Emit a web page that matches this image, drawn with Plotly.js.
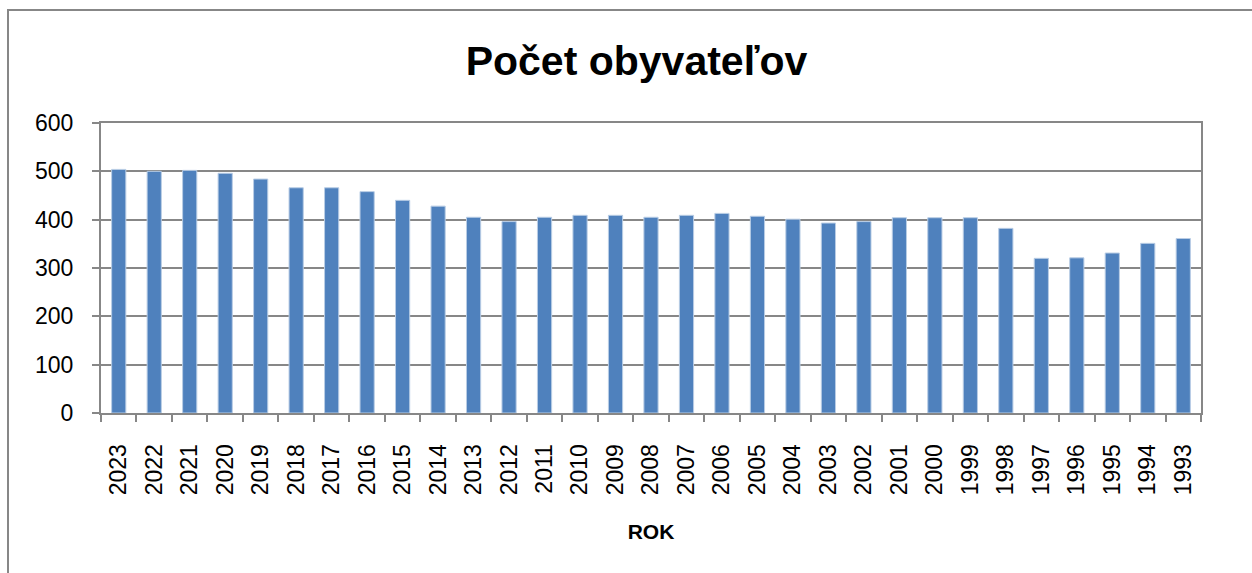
<!DOCTYPE html>
<html>
<head>
<meta charset="utf-8">
<script src="https://cdn.plot.ly/plotly-3.0.1.min.js"></script>
<style>
html,body{margin:0;padding:0;background:#fff;}
#chart{width:1252px;height:573px;}
</style>
</head>
<body>
<div id="chart"></div>
<script>
const years = ["2023","2022","2021","2020","2019","2018","2017","2016","2015","2014","2013","2012","2011","2010","2009","2008","2007","2006","2005","2004","2003","2002","2001","2000","1999","1998","1997","1996","1995","1994","1993"];
const population = [504,500,502,496,484,466,466,458,440,428,405,396,405,409,409,405,409,413,407,401,393,396,404,404,404,382,320,321,331,351,361];
const yTicks = [0,100,200,300,400,500,600];

const trace = {
  type: 'bar',
  x: years,
  y: population,
  marker: {color: '#4f81bd', line: {color: '#b9cde5', width: 1}},
  hoverinfo: 'x+y'
};

const L = 101, R = 1201, T = 123, B = 413;
const W = R - L, H = B - T;

const layout = {
  width: 1252, height: 573,
  margin: {l: L, r: 1252 - R, t: T, b: 573 - B},
  paper_bgcolor: '#ffffff',
  plot_bgcolor: '#ffffff',
  bargap: 0.6,
  showlegend: false,
  title: {
    text: '<b>Počet obyvateľov</b>',
    font: {family: 'Liberation Sans, Arial, sans-serif', size: 41, color: '#000'},
    x: 636.5 / 1252, xanchor: 'center', xref: 'container',
    y: 1 - 61 / 573, yanchor: 'middle', yref: 'container'
  },
  xaxis: {
    type: 'category',
    tickangle: -90,
    tickfont: {family: 'Liberation Sans, Arial, sans-serif', size: 23, color: '#000'},
    ticks: 'outside', tickson: 'boundaries', ticklen: 7, tickcolor: '#878787', tickwidth: 2,
    ticklabelstandoff: 20,
    showline: true, linecolor: '#878787', linewidth: 2, mirror: true,
    showgrid: false,
    title: {text: '<b>ROK</b>', font: {family: 'Liberation Sans, Arial, sans-serif', size: 21, color: '#000'}, standoff: 30}
  },
  yaxis: {
    range: [0, 600],
    tickvals: yTicks,
    tickfont: {family: 'Liberation Sans, Arial, sans-serif', size: 23, color: '#000'},
    ticks: 'outside', ticklen: 7, tickcolor: '#878787', tickwidth: 2,
    ticklabelstandoff: 14,
    showline: true, linecolor: '#878787', linewidth: 2, mirror: true,
    showgrid: true, gridcolor: '#878787', gridwidth: 2,
    zeroline: false
  },
  shapes: [{
    type: 'rect', xref: 'paper', yref: 'paper',
    x0: (8 - L) / W, x1: (1270 - L) / W, y0: (B - 590) / H, y1: (B - 10) / H,
    line: {color: '#878787', width: 2}, fillcolor: 'rgba(0,0,0,0)', layer: 'below'
  }]
};

Plotly.newPlot('chart', [trace], layout, {displayModeBar: false, staticPlot: true});
</script>
</body>
</html>
